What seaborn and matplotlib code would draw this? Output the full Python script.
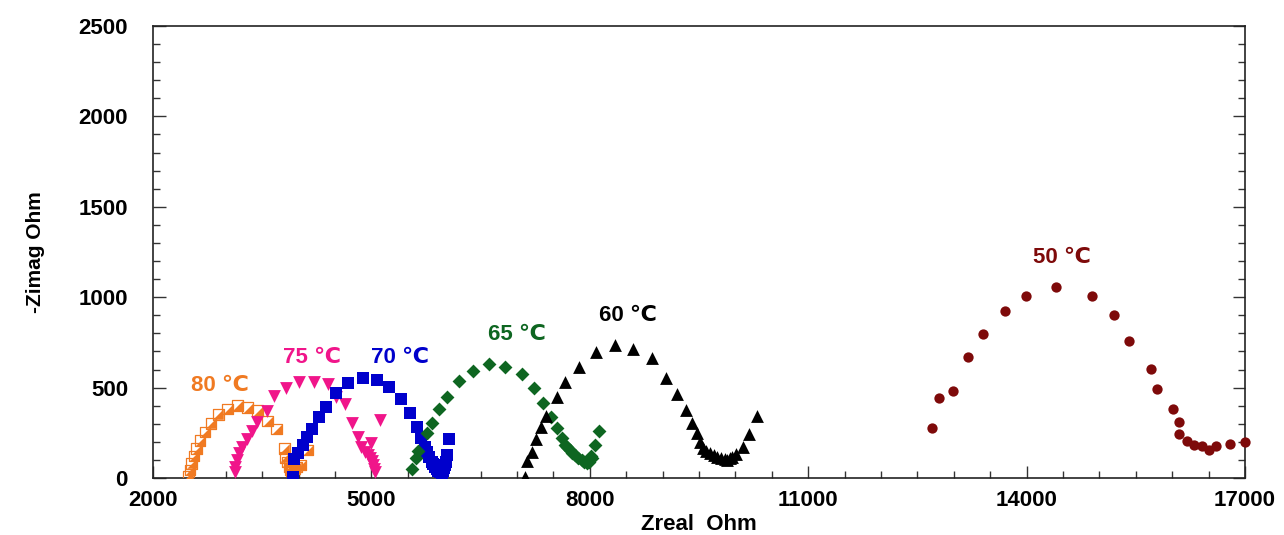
import matplotlib
matplotlib.use("Agg")
import matplotlib.pyplot as plt
from matplotlib.ticker import MultipleLocator
import seaborn as sns

# ---- data ----
z80_re = [2485, 2508, 2532, 2563, 2600, 2646, 2714, 2797, 2897, 3026, 3158, 3301, 3438, 3576, 3699,
          3804, 3813, 3841, 3868, 3882, 3900, 3920, 3945, 3970, 4033, 4125]
z80_im = [11, 44, 81, 122, 162, 206, 254, 302, 352, 382, 400, 389, 372, 315, 271,
          162, 114, 88, 63, 48, 40, 45, 50, 60, 72, 155]

z75_re = [3126, 3126, 3150, 3181, 3218, 3287, 3364, 3424, 3562, 3666, 3827, 3999, 4205, 4400, 4510,
          4637, 4738, 4820, 4857, 4912, 4953, 4981, 5004, 5026, 5040, 5049, 4995, 5118]
z75_im = [35, 62, 100, 137, 173, 214, 260, 312, 372, 454, 500, 531, 531, 522, 450,
          409, 302, 228, 173, 145, 127, 111, 94, 72, 48, 35, 192, 321]

z70_re = [3927, 3937, 3996, 4056, 4119, 4188, 4284, 4372, 4507, 4683, 4878, 5073, 5246, 5402, 5537,
          5622, 5688, 5736, 5760, 5795, 5828, 5850, 5874, 5900, 5919, 5940, 5966, 5980, 5997, 6010,
          6025, 6034, 6070]
z70_im = [4, 103, 137, 183, 225, 269, 339, 394, 472, 527, 551, 542, 502, 439, 358,
          280, 224, 173, 145, 118, 90, 75, 62, 50, 40, 35, 29, 40, 54, 70,
          90, 127, 217]

z65_re = [5562, 5608, 5636, 5760, 5836, 5929, 6042, 6203, 6400, 6619, 6835, 7064, 7233, 7361, 7467,
          7545, 7614, 7659, 7680, 7728, 7760, 7797, 7840, 7889, 7920, 7957, 7990, 8010, 8026, 8071, 8130]
z65_im = [48, 109, 151, 251, 306, 380, 450, 537, 593, 631, 616, 575, 496, 416, 339,
          275, 220, 183, 170, 155, 140, 127, 112, 100, 90, 81, 90, 120, 109, 183, 260]

z60_re = [7110, 7133, 7202, 7261, 7330, 7398, 7545, 7659, 7852, 8085, 8346, 8597, 8858, 9042, 9193,
          9317, 9400, 9468, 9514, 9559, 9600, 9651, 9700, 9743, 9800, 9857, 9880, 9926, 9960, 10008,
          10108, 10190, 10292]
z60_im = [7, 96, 145, 214, 280, 343, 450, 529, 616, 695, 736, 712, 665, 555, 465,
          376, 306, 247, 201, 164, 150, 137, 125, 118, 110, 103, 100, 109, 115, 131,
          173, 243, 343]

z50_re = [12696, 12801, 12993, 13199, 13401, 13703, 13996, 14404, 14898, 15200, 15406, 15704, 15795,
          16007, 16097, 16097, 16199, 16299, 16409, 16505, 16605, 16797, 16995]
z50_im = [278, 441, 483, 668, 798, 925, 1008, 1055, 1008, 903, 756, 603, 492,
          383, 310, 245, 206, 181, 175, 157, 175, 190, 197]

labels = ["80 ℃", "75 ℃", "70 ℃", "65 ℃", "60 ℃", "50 ℃"]
label_x = [2920, 4184, 5393, 7000, 8525, 14486]
label_y = [509, 664, 664, 791, 901, 1217]

x_ticks = [2000, 5000, 8000, 11000, 14000, 17000]
y_ticks = [0, 500, 1000, 1500, 2000, 2500]

# ---- styling ----
c80 = "#F07A22"
c75 = "#F0158A"
c70 = "#0000CC"
c65 = "#0E6621"
c60 = "#000000"
c50 = "#7E0A0A"

fig = plt.figure(figsize=(12.84, 5.35), dpi=100)
ax = fig.add_axes([153 / 1284, 1 - 478 / 535, (1245 - 153) / 1284, (478 - 26) / 535])

fam = ["Liberation Sans", "DejaVu Sans"]

# 80 C: half filled squares (filled lower-right triangle + open square)
tri = [(-1, -1), (1, -1), (1, 1), (-1, -1)]
sns.scatterplot(x=z80_re, y=z80_im, ax=ax, marker=tri, s=58, color=c80, linewidth=0, zorder=3)
sns.scatterplot(x=z80_re, y=z80_im, ax=ax, marker="s", s=58, facecolor="none", edgecolor=c80,
                linewidth=0.9, zorder=3)
sns.scatterplot(x=z75_re, y=z75_im, ax=ax, marker="v", s=85, color=c75, linewidth=0, zorder=3)
sns.scatterplot(x=z70_re, y=z70_im, ax=ax, marker="s", s=72, color=c70, linewidth=0, zorder=3)
sns.scatterplot(x=z65_re, y=z65_im, ax=ax, marker="D", s=50, color=c65, linewidth=0, zorder=3)
sns.scatterplot(x=z60_re, y=z60_im, ax=ax, marker="^", s=85, color=c60, linewidth=0, zorder=3)
sns.scatterplot(x=z50_re, y=z50_im, ax=ax, marker="o", s=55, color=c50, linewidth=0, zorder=3,
                clip_on=False)

for t, lx, ly, col in zip(labels, label_x, label_y, [c80, c75, c70, c65, c60, c50]):
    ax.text(lx, ly, t, color=col, fontsize=16, fontweight="bold", family=fam,
            ha="center", va="center")

ax.set_xlim(2000, 17000)
ax.set_ylim(0, 2500)
ax.set_xticks(x_ticks)
ax.set_yticks(y_ticks)
ax.xaxis.set_minor_locator(MultipleLocator(500))
ax.yaxis.set_minor_locator(MultipleLocator(100))
ax.tick_params(which="both", direction="in", top=False, right=True, width=1.0, color="#333333")
ax.tick_params(which="major", length=9)
ax.tick_params(which="minor", length=5)
ax.tick_params(axis="x", which="major", pad=9)
ax.tick_params(axis="y", which="major", pad=18)
for lab in ax.get_xticklabels() + ax.get_yticklabels():
    lab.set_fontweight("bold")
    lab.set_fontsize(16)
    lab.set_family(fam)

ax.set_xlabel("Zreal  Ohm", fontsize=16, fontweight="bold", family=fam, labelpad=2)
ax.set_ylabel("-Zimag Ohm", fontsize=15, fontweight="bold", family=fam, labelpad=24)

for sp in ax.spines.values():
    sp.set_linewidth(1.2)
    sp.set_color("#222222")

fig.savefig("out.png", dpi=100)
